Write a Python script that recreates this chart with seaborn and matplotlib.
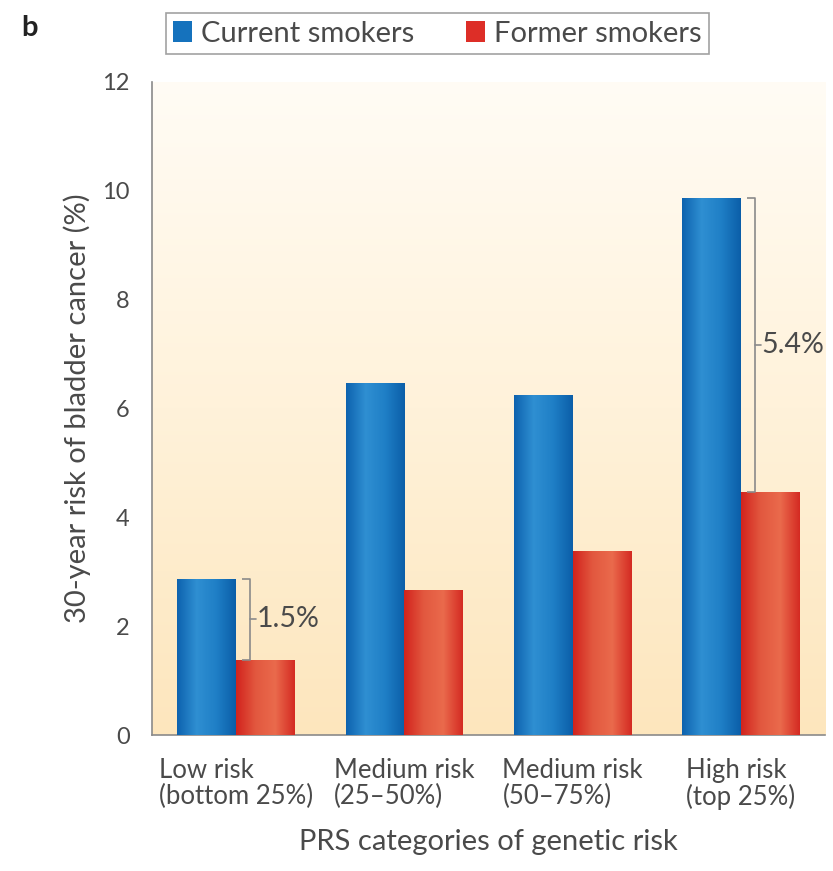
#!/usr/bin/env python3
"""
Bladder cancer 30-year risk by PRS category, current vs former smokers
"""

import numpy as np
import pandas as pd
import matplotlib.pyplot as plt
import seaborn as sns
from matplotlib.patches import Patch
from matplotlib.colors import LinearSegmentedColormap

# data
categories = ['Low risk\n(bottom 25%)', 'Medium risk\n(25–50%)',
              'Medium risk\n(50–75%)', 'High risk\n(top 25%)']
current_smokers = [2.87, 6.47, 6.25, 9.87]
former_smokers = [1.38, 2.67, 3.38, 4.47]
groups = ['Current smokers', 'Former smokers']
diff_labels = {0: '1.5%', 3: '5.4%'}

df = pd.DataFrame({
    'category': categories * 2,
    'risk': current_smokers + former_smokers,
    'group': [groups[0]] * 4 + [groups[1]] * 4,
})

sns.set_style('white')
plt.rcParams['font.family'] = ['Lato', 'DejaVu Sans']
text_col = '#4a4a4a'
axis_col = '#8a8a8a'

fig = plt.figure(figsize=(8.33, 8.71), dpi=100)
ax = fig.add_axes([0.1825, 0.156, 0.808, 0.75])

palette = {groups[0]: '#1572bd', groups[1]: '#dd2e27'}
sns.barplot(data=df, x='category', y='risk', hue='group', palette=palette,
            width=0.7, ax=ax, legend=False, saturation=1, zorder=3)

# cream-to-peach background gradient
bg = LinearSegmentedColormap.from_list('bg', ['#fde6bd', '#fff2da', '#fffcf5'])
grad = np.linspace(0, 1, 256).reshape(-1, 1)
ax.imshow(grad, extent=(-0.5, 3.5, 0, 12), origin='lower', aspect='auto',
          cmap=bg, zorder=0)

# cylinder shading on bars
shade = {
    groups[0]: LinearSegmentedColormap.from_list('b', ['#0d62ae', '#2f8fd2', '#1f7fc6', '#0b5ea8']),
    groups[1]: LinearSegmentedColormap.from_list('r', ['#d2231d', '#e2583f', '#ea6a4c', '#d42a22']),
}
hgrad = np.linspace(0, 1, 256).reshape(1, -1)
bars = [p for p in ax.patches]
for i, p in enumerate(bars):
    g = groups[0] if i < 4 else groups[1]
    x0, w, h = p.get_x(), p.get_width(), p.get_height()
    im = ax.imshow(hgrad, extent=(x0, x0 + w, 0, h), aspect='auto',
                   cmap=shade[g], zorder=4)
    im.set_clip_path(p)
    p.set_edgecolor('none')

ax.set_xlim(-0.5, 3.5)
ax.set_ylim(0, 12)

# brackets showing difference
bw = bars[0].get_width()
for i, lab in diff_labels.items():
    top, bot = current_smokers[i], former_smokers[i]
    xb = bars[i].get_x() + bw + 0.083
    x_in = xb - 0.048
    ax.plot([x_in, xb, xb, x_in], [top, top, bot, bot], color=axis_col,
            lw=1.2, zorder=5, solid_capstyle='butt')
    mid = (top + bot) / 2
    ax.plot([xb, xb + 0.035], [mid, mid], color=axis_col, lw=1.2, zorder=5)
    ax.text(xb + 0.038, mid, lab, ha='left', va='center', fontsize=20.5,
            color=text_col, zorder=5)

# axes styling
for s in ['top', 'right']:
    ax.spines[s].set_visible(False)
for s in ['left', 'bottom']:
    ax.spines[s].set_color(axis_col)
    ax.spines[s].set_linewidth(1.2)

ax.set_yticks(range(0, 13, 2))
ax.tick_params(axis='y', length=10, width=1.2, color=axis_col, labelsize=17,
               labelcolor=text_col, pad=6)
ax.set_xticks([-0.5, 0.5, 1.5, 2.5, 3.5])
ax.set_xticklabels([])
ax.tick_params(axis='x', length=8, width=1.2, color=axis_col, direction='out')
for j, c in enumerate(categories):
    ax.text(j, -0.42, c, ha='center', va='top', multialignment='left',
            fontsize=18.5, color=text_col, linespacing=1.05)

ax.set_xlabel('PRS categories of genetic risk', fontsize=21, color=text_col,
              labelpad=56)
ax.set_ylabel('30-year risk of bladder cancer (%)', fontsize=21,
              color=text_col, labelpad=8)

handles = [Patch(facecolor=palette[g], edgecolor='none') for g in groups]
leg = fig.legend(handles, groups, loc='center', bbox_to_anchor=(0.525, 0.9615),
                 ncol=2, fontsize=21, frameon=True, fancybox=False,
                 handlelength=0.65, handleheight=0.75, handletextpad=0.3,
                 columnspacing=1.8, borderpad=0.25, borderaxespad=0)
leg.get_frame().set_edgecolor(axis_col)
leg.get_frame().set_linewidth(1.2)
for t in leg.get_texts():
    t.set_color(text_col)

fig.text(0.025, 0.968, 'b', fontsize=21, fontweight='bold', color='#222222',
         ha='left', va='center')

plt.savefig('out.png', dpi=100)
